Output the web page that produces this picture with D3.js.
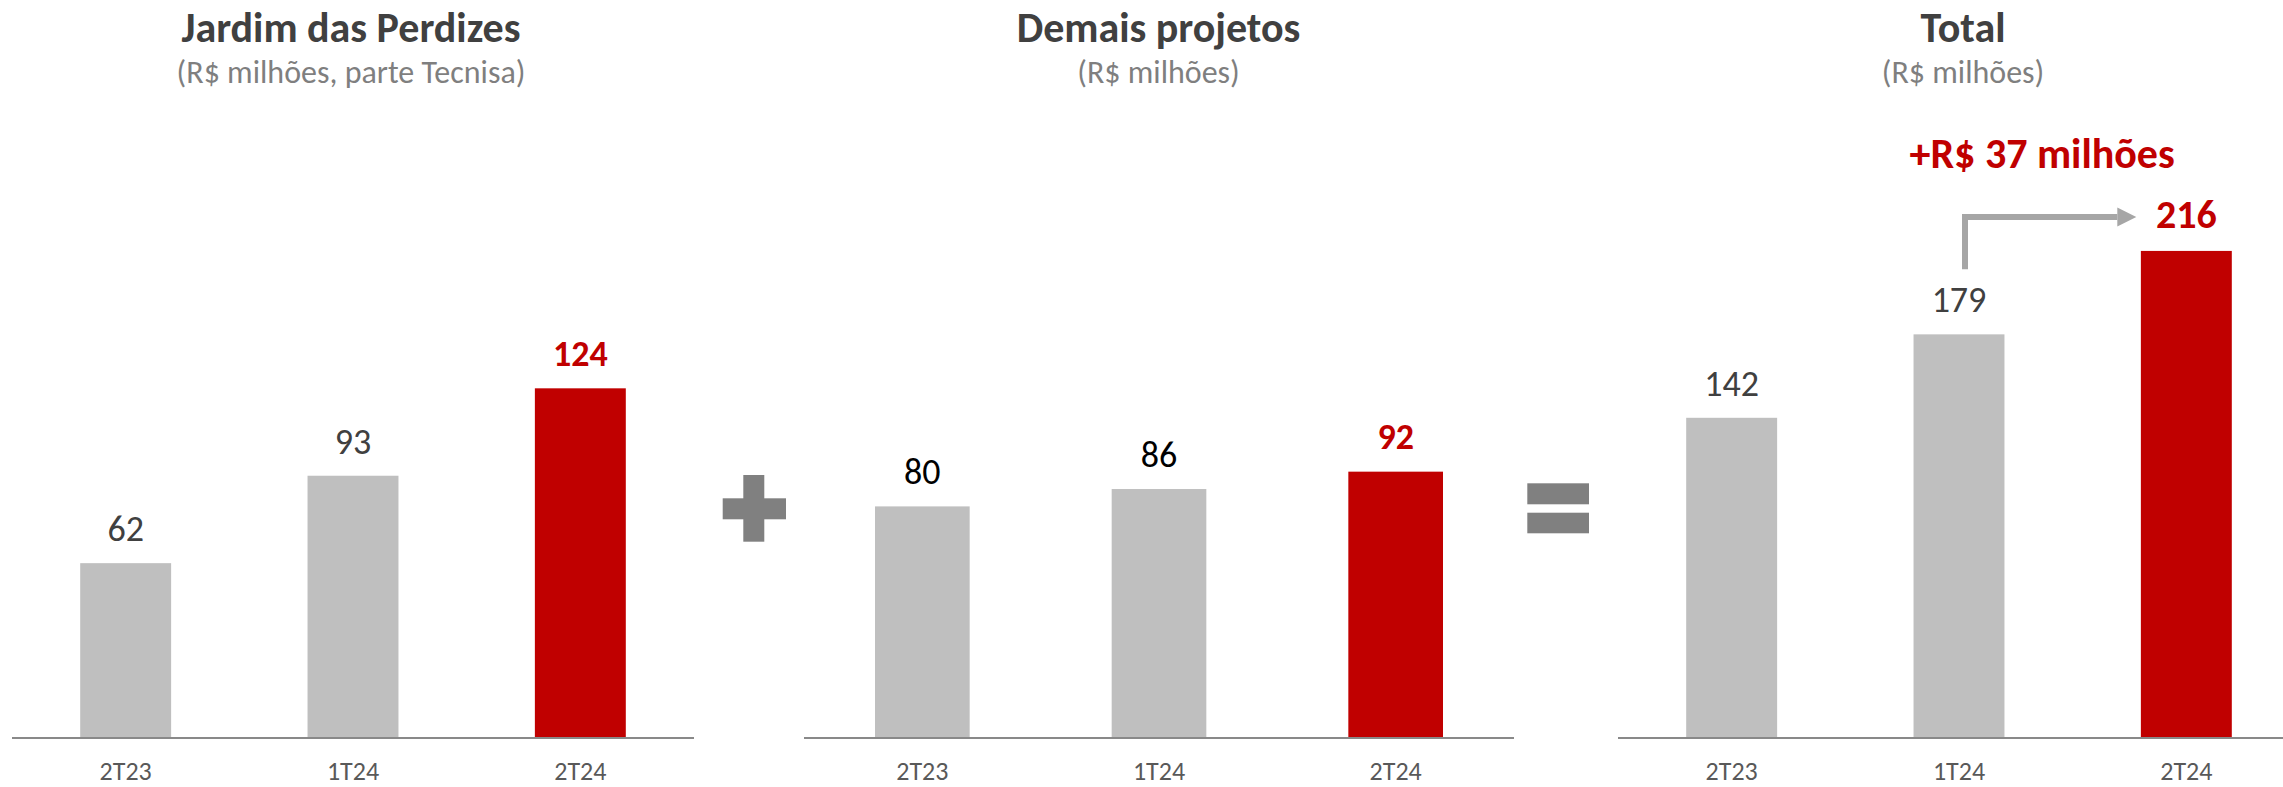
<!DOCTYPE html>
<html>
<head>
<meta charset="utf-8">
<script src="https://cdn.jsdelivr.net/npm/d3@7"></script>
<style>
  html, body { margin: 0; padding: 0; background: #ffffff; }
  svg { display: block; }
  text { font-family: Carlito, Lato, "Open Sans", sans-serif; }
</style>
</head>
<body>
<script>
// ---- data ----
const categories = ["2T23", "1T24", "2T24"];
const jardimValues = [62, 93, 124];
const demaisValues = [80, 86, 92];
const totalValues = [142, 179, 216];
const panelTitles = ["Jardim das Perdizes", "Demais projetos", "Total"];
const panelSubtitles = ["(R$ milhões, parte Tecnisa)", "(R$ milhões)", "(R$ milhões)"];
const annotationText = "+R$ 37 milhões";

// ---- layout ----
const W = 2283, H = 787;
const baseY = 738;
const RED = "#c00000", GRAY = "#bfbfbf";

const panels = [
  { values: jardimValues, range: [12, 694], yMax: 140, yTop: 738 - 140 * 2.82, labelColor: "#404040", titleX: 351 },
  { values: demaisValues, range: [804, 1514], yMax: 100, yTop: 738 - 100 * 2.895, labelColor: "#000000", titleX: 1158.5 },
  { values: totalValues, range: [1618, 2300], yMax: 250, yTop: 738 - 250 * 2.255, labelColor: "#404040", titleX: 1963 }
];

const svg = d3.select("body").append("svg").attr("width", W).attr("height", H);

panels.forEach((p, i) => {
  const x = d3.scaleBand().domain(categories).range(p.range).paddingInner(0.6).paddingOuter(0.3);
  const y = d3.scaleLinear().domain([0, p.yMax]).range([baseY, p.yTop]);
  p.x = x; p.y = y;
  const g = svg.append("g");
  const data = categories.map((c, k) => ({ c, v: p.values[k], last: k === categories.length - 1 }));

  g.selectAll("rect.bar").data(data).join("rect")
    .attr("class", "bar")
    .attr("x", d => x(d.c))
    .attr("width", x.bandwidth())
    .attr("y", d => y(d.v))
    .attr("height", d => baseY - y(d.v))
    .attr("fill", d => d.last ? RED : GRAY);

  // axis line
  const axis = d3.axisBottom(x).tickSize(0).tickPadding(0);
  const ag = g.append("g").attr("transform", `translate(0,${baseY})`).call(axis);
  ag.select(".domain").attr("stroke", "#898989").attr("stroke-width", 2.2)
    .attr("d", `M${p.range[0]},0H${p.range[1]}`);
  ag.selectAll(".tick text")
    .attr("y", 42).attr("dy", null)
    .attr("fill", "#595959")
    .style("font-size", "26px")
    .style("font-family", "Carlito, Lato, sans-serif");

  // value labels
  g.selectAll("text.val").data(data).join("text")
    .attr("class", "val")
    .attr("x", d => x(d.c) + x.bandwidth() / 2)
    .attr("y", d => y(d.v) - (d.last ? 22.5 : 22))
    .attr("text-anchor", "middle")
    .attr("fill", d => d.last ? RED : p.labelColor)
    .style("font-weight", d => d.last ? "700" : "400")
    .style("font-size", d => (d.last && i === 2) ? "40px" : "36px")
    .text(d => d.v);

  // titles
  g.append("text").attr("x", p.titleX).attr("y", 41.5).attr("text-anchor", "middle")
    .attr("fill", "#404040").style("font-weight", "700").style("font-size", "42px")
    .text(panelTitles[i]);
  g.append("text").attr("x", p.titleX).attr("y", 82.5).attr("text-anchor", "middle")
    .attr("fill", "#7f7f7f").style("font-size", "32px")
    .text(panelSubtitles[i]);
});

// ---- operators ----
const opColor = "#808080";
// plus
svg.append("rect").attr("x", 743.3).attr("y", 475).attr("width", 21).attr("height", 66.7).attr("fill", opColor);
svg.append("rect").attr("x", 722.7).attr("y", 498.3).attr("width", 63.3).attr("height", 21).attr("fill", opColor);
// equals
svg.append("rect").attr("x", 1527.3).attr("y", 483.3).attr("width", 61.7).attr("height", 21).attr("fill", opColor);
svg.append("rect").attr("x", 1527.3).attr("y", 512.7).attr("width", 61.7).attr("height", 20.6).attr("fill", opColor);

// ---- annotation on Total panel ----
const tp = panels[2];
const xPrev = tp.x(categories[1]) + tp.x.bandwidth() / 2 + 6;
const yPrevTop = tp.y(totalValues[1]) - 65;   // just above "179" label
const xLast = tp.x(categories[2]) + tp.x.bandwidth() / 2;
const yArrow = tp.y(totalValues[2]) - 34;
const tipX = xLast - 50;
const headLen = 19, headHalf = 9.5;

svg.append("path")
  .attr("d", `M${xPrev},${yPrevTop}V${yArrow}H${tipX - headLen}`)
  .attr("fill", "none").attr("stroke", "#a6a6a6").attr("stroke-width", 6)
  .attr("stroke-linejoin", "miter");
svg.append("path")
  .attr("d", `M${tipX - headLen},${yArrow - headHalf}L${tipX},${yArrow}L${tipX - headLen},${yArrow + headHalf}Z`)
  .attr("fill", "#a6a6a6");

svg.append("text")
  .attr("x", tp.x(categories[1]) - 4)
  .attr("y", 168.3)
  .attr("text-anchor", "start")
  .attr("fill", RED)
  .style("font-weight", "700").style("font-size", "42px")
  .text(annotationText);
</script>
</body>
</html>
